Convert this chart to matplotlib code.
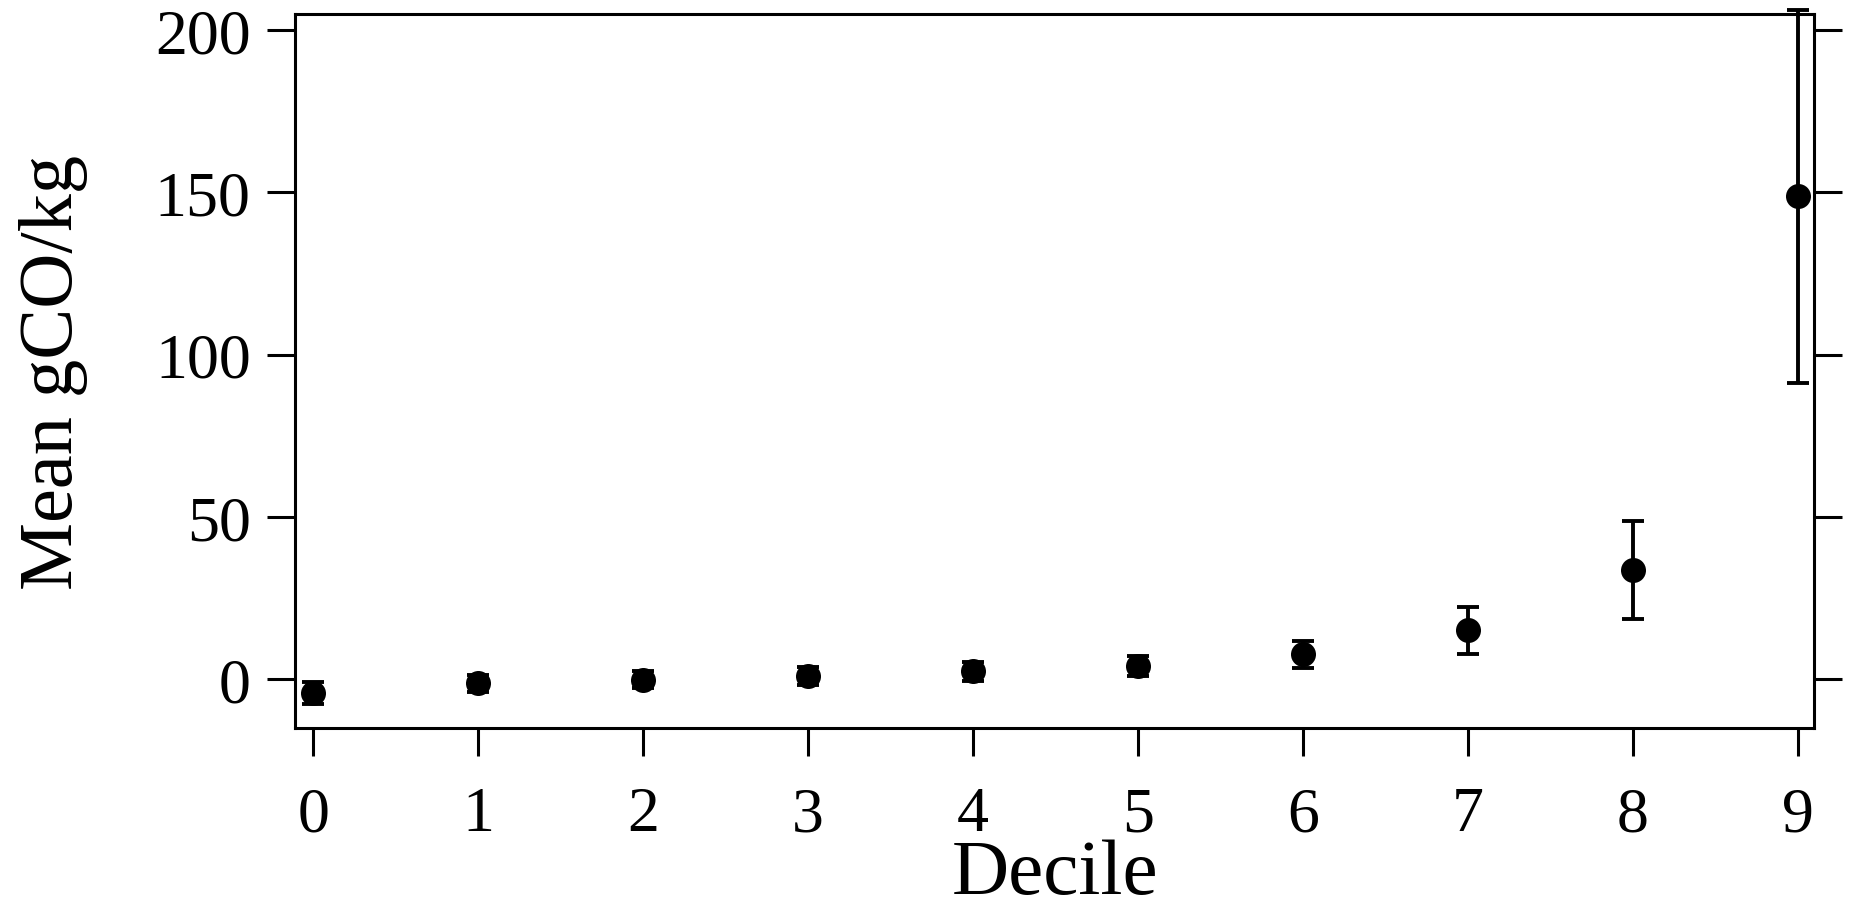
import matplotlib.pyplot as plt

plt.rcParams['font.family'] = ['Liberation Serif', 'DejaVu Serif']

# Mean emission factor per decile, with error half-widths
deciles = [0, 1, 2, 3, 4, 5, 6, 7, 8, 9]
mean_gco = [-4.3, -1.3, -0.2, 1.0, 2.4, 4.1, 7.7, 15.1, 33.8, 148.8]
err_gco = [3.4, 2.6, 2.6, 2.8, 3.0, 3.1, 4.2, 7.2, 15.1, 57.4]


def style_axes(ax):
    for spine in ax.spines.values():
        spine.set_linewidth(1.1)
    ax.tick_params(axis='both', direction='out', length=10, width=1.1,
                   labelsize=23)
    ax.tick_params(axis='y', left=True, right=True, labelleft=True,
                   labelright=False, pad=6)
    ax.tick_params(axis='x', bottom=True, top=False, pad=11)


fig = plt.figure(figsize=(9.28, 4.56), dpi=200)
ax = fig.add_axes([0.159, 0.2007, 0.8184, 0.7829])

bars = ax.errorbar(deciles, mean_gco, yerr=err_gco, fmt='o', color='black',
                   markersize=8, elinewidth=1.4, capsize=4, capthick=1.4)
for artist in bars.lines[1] + bars.lines[2]:
    artist.set_clip_on(False)

ax.set_xlim(-0.11, 9.1)
ax.set_ylim(-15, 205)
ax.set_xticks(deciles)
ax.set_yticks([0, 50, 100, 150, 200])
style_axes(ax)

ax.set_xlabel('Decile', fontsize=28.5, labelpad=-2)
ax.set_ylabel('Mean gCO/kg', fontsize=27.5, labelpad=24)

fig.savefig('out.png', dpi=200)
